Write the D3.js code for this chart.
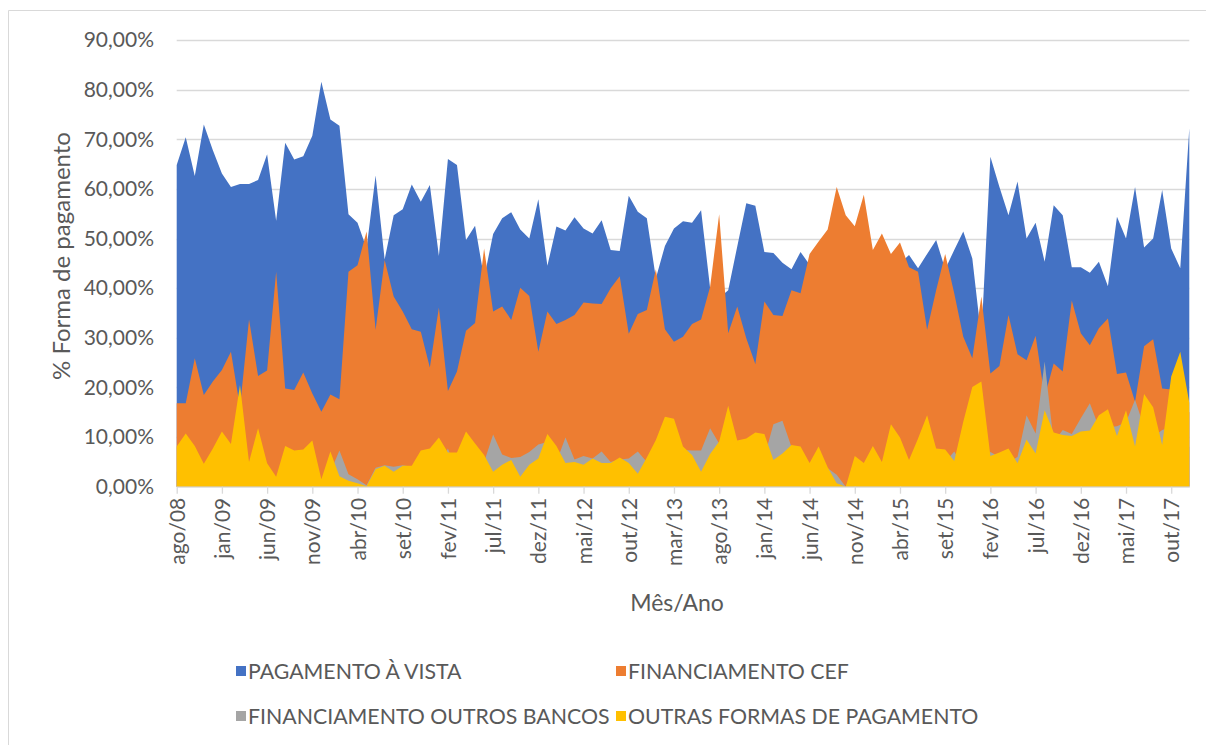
<!DOCTYPE html>
<html><head><meta charset="utf-8">
<script src="https://cdn.jsdelivr.net/npm/d3@7/dist/d3.min.js"></script>
<style>
body{margin:0;background:#fff;}
text{font-family:Lato,"Open Sans",sans-serif;fill:#595959;}
</style></head>
<body><svg id="chart" width="1206" height="745"></svg>
<script>
const monthAbbr = ["jan","fev","mar","abr","mai","jun","jul","ago","set","out","nov","dez"];
const categories = [];
for (let k = 0; k < 113; k++) { const m = (7 + k) % 12; const y = 8 + Math.floor((7 + k) / 12); categories.push(monthAbbr[m] + "/" + String(y).padStart(2, "0")); }

const aVista = [64.8,70.4,62.6,73.0,67.8,63.1,60.4,61.0,61.0,61.8,67.0,53.6,69.3,65.9,66.6,70.7,81.6,74.0,72.7,54.9,
53.2,48.0,62.7,45.8,54.7,55.9,60.9,57.4,60.8,46.5,66.0,64.8,49.7,52.6,42.0,50.9,54.1,55.3,51.8,50.0,
57.9,44.5,52.4,51.6,54.3,52.0,51.0,53.7,47.7,47.5,58.6,55.4,54.1,42.0,48.5,52.0,53.5,53.2,55.7,40.0,
38.0,39.6,48.4,57.1,56.6,47.3,47.1,45.1,43.8,47.3,44.7,45.0,44.0,43.0,42.0,41.0,43.0,44.0,43.0,44.0,
45.0,46.7,44.0,46.9,49.7,43.8,47.7,51.4,46.0,30.0,66.5,60.4,54.7,61.5,50.0,53.2,45.3,56.7,54.7,44.2,
44.2,43.1,45.3,40.4,54.4,50.0,60.4,48.2,50.0,59.8,48.0,44.0,72.2];
const cef = [16.8,16.8,25.9,18.5,21.2,23.5,27.2,16.0,33.7,22.3,23.4,43.3,19.8,19.5,23.0,18.8,15.1,18.6,17.6,43.3,
44.6,51.4,31.6,45.7,38.3,35.3,31.7,31.2,24.0,36.1,19.3,23.2,31.4,33.0,48.0,35.3,36.3,33.6,40.1,38.4,
27.2,35.3,32.8,33.6,34.6,37.1,36.9,36.8,40.0,42.4,30.8,34.8,35.6,43.8,31.7,29.2,30.2,32.8,33.7,40.3,
54.9,30.9,36.3,29.9,24.7,37.3,34.6,34.4,39.6,39.0,46.9,49.4,51.8,60.4,54.7,52.5,58.8,47.7,51.0,46.9,
49.2,44.2,43.3,31.6,39.6,46.9,39.0,30.2,25.9,38.3,22.8,24.3,34.6,26.7,25.5,30.4,18.1,24.8,23.2,37.5,
30.9,28.5,31.9,33.9,22.7,23.0,17.1,28.3,29.7,19.8,19.6,17.0,15.0];
const outrosBancos = [3,4,3,2,3,4,3,4,2,4,2,1,3,3,3,4,1,3,7.3,2.5,
1.5,0.3,3.8,4.3,4.0,4.3,4.0,3,3,4,7.7,3,5,4,5,10.5,6.5,5.8,6.0,7.0,
8.5,9.0,5,9.9,5.5,6.2,5.7,7.1,5.0,5.5,5.7,7.1,5.0,4,5,6,7.4,7.3,7.3,11.8,
8.7,5,5,5,6,6,12.6,13.3,8,5,4,5,3.7,2.4,0,4,3,5,3,6,
6,3,5,6,4,5,7.1,4,5,5,7,6,5,6,14.4,10.7,25.2,9,11.4,10.6,
13.8,16.8,12,12,12.2,13,17.5,12,10,11.4,12,10,8];
const outras = [8.1,10.7,8.2,4.6,7.7,11.1,8.6,20.5,5.0,11.8,4.7,2.0,8.2,7.3,7.5,9.3,1.5,7.1,2.1,1.2,
0.7,0.1,3.5,4.2,3.0,4.2,4.2,7.3,7.7,9.9,6.9,6.9,11.1,8.7,6.4,3.0,4.4,5.4,2.0,4.4,
5.7,10.6,8.2,4.8,5.0,4.4,5.7,4.8,4.8,5.9,4.8,2.6,5.9,9.4,14.1,13.7,8.1,6.4,3.0,6.6,
9.1,16.3,9.3,9.7,10.9,10.6,5.4,6.7,8.4,8.1,4.8,8.1,3.9,0.7,0,6.2,4.8,8.2,5.0,12.6,
9.9,5.4,9.7,14.4,7.7,7.5,5.2,13.1,20.1,21.2,6.2,6.9,7.7,4.7,9.5,6.7,15.4,10.9,10.4,10.2,
11.1,11.3,14.4,15.6,10.2,15.4,8.1,18.7,16.0,8.4,22.2,27.2,16.9];
const yTicks = [0,10,20,30,40,50,60,70,80,90];
const seriesNames = ["PAGAMENTO À VISTA","FINANCIAMENTO CEF","FINANCIAMENTO OUTROS BANCOS","OUTRAS FORMAS DE PAGAMENTO"];
const seriesColors = ["#4472C4","#ED7D31","#A5A5A5","#FFC000"];
const seriesData = [aVista, cef, outrosBancos, outras];

const svg = d3.select("#chart");
svg.append("rect").attr("width",1206).attr("height",745).attr("fill","#fff");
// chart frame
svg.append("path").attr("d","M8.5,745 V10.5 H1206").attr("fill","none").attr("stroke","#D9D9D9").attr("stroke-width",1);

const x = d3.scalePoint().domain(categories).range([176.7, 1189.3]).padding(0);
const y = d3.scaleLinear().domain([0, 90]).range([486.7, 40]);

// gridlines
svg.append("g").selectAll("line").data(yTicks.filter(d=>d>0)).join("line")
  .attr("x1", 176.7).attr("x2", 1189.3).attr("y1", d=>Math.round(y(d))+0.5).attr("y2", d=>Math.round(y(d))+0.5)
  .attr("stroke","#D9D9D9").attr("stroke-width",1.3);

// areas
const area = d3.area().x((d,i)=>x(categories[i])).y0(y(0)).y1(d=>y(d));
svg.append("g").selectAll("path").data(seriesData).join("path")
  .attr("d", d=>area(d)).attr("fill",(d,i)=>seriesColors[i]);

// x axis
const tickCats = categories.filter((c,i)=>i%5===0);
const xAxis = d3.axisBottom(x).tickValues(tickCats).tickSize(7).tickSizeOuter(0);
const gx = svg.append("g").attr("transform",`translate(0,${y(0)})`).call(xAxis);
gx.select(".domain").attr("stroke","#D9D9D9").attr("stroke-width",1.3);
gx.selectAll(".tick line").attr("stroke","#D9D9D9").attr("stroke-width",1.3);
gx.selectAll(".tick text").attr("transform","rotate(-90)").attr("text-anchor","end")
  .attr("x",-11).attr("y",0).attr("dy","0.36em").style("font-size","21px").style("fill","#595959")
  .style("font-family","Lato,sans-serif");

// y axis labels
const fmt = d => d.toFixed(2).replace(".", ",") + "%";
const yAxis = d3.axisLeft(y).tickValues(yTicks).tickFormat(fmt).tickSize(0);
const gy = svg.append("g").attr("transform","translate(154,0)").call(yAxis);
gy.select(".domain").remove();
gy.selectAll(".tick text").attr("x",0).style("font-size","21px").style("fill","#595959").style("font-family","Lato,sans-serif");

// axis titles
svg.append("text").attr("transform","translate(70,256) rotate(-90)").attr("text-anchor","middle")
  .style("font-size","24px").text("% Forma de pagamento");
svg.append("text").attr("x",677).attr("y",611).attr("text-anchor","middle")
  .style("font-size","23px").text("Mês/Ano");

// legend
const legendPos = [[236,671],[616,671],[236,716],[616,716]];
const lg = svg.append("g").selectAll("g").data(seriesNames).join("g")
  .attr("transform",(d,i)=>`translate(${legendPos[i][0]},${legendPos[i][1]})`);
lg.append("rect").attr("x",0).attr("y",-5).attr("width",10).attr("height",10).attr("fill",(d,i)=>seriesColors[i]);
lg.append("text").attr("x",12).attr("y",0).attr("dy","0.36em").style("font-size","21.3px").text(d=>d);
</script></body></html>
